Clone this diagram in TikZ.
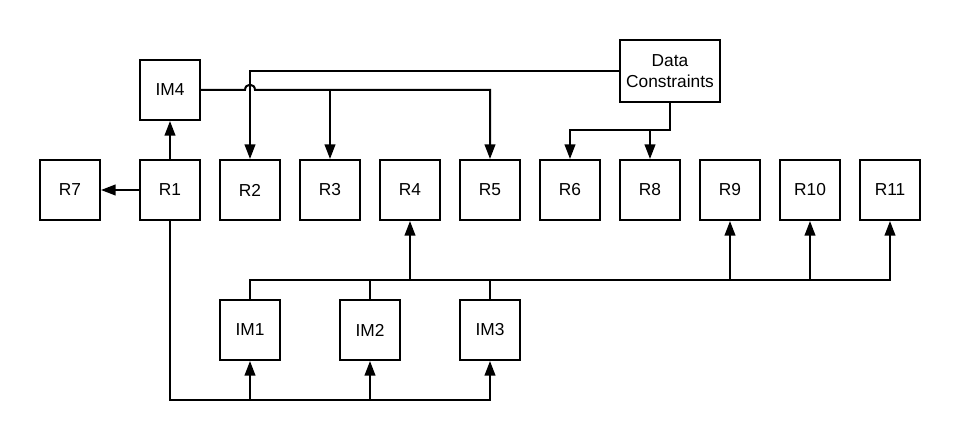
\documentclass[tikz,border=0pt]{standalone}
\usepackage{fontspec}
\setmainfont{Liberation Sans}
\usetikzlibrary{arrows.meta}

\tikzset{
  blk/.style={draw, line width=1.5pt, inner sep=0.75pt, minimum width=45pt, minimum height=45pt, align=center, font=\fontsize{13}{15.75}\selectfont},
  wire/.style={line width=1.5pt},
  arr/.style={wire, -{Triangle[length=11pt,width=8pt]}}
}

\begin{document}
\begin{tikzpicture}[x=0.75pt,y=0.75pt,yscale=-1]
\path (0,0) rectangle (960,441); %set diagram size

% Top boxes
\node [blk] (IM4) at (170,90) {IM4};
\node [blk, minimum width=75pt, minimum height=46.5pt] (DC) at (670,71) {Data\\Constraints};
% Row of R boxes
\node [blk] (R7) at (70,190) {R7};
\node [blk] (R1) at (170,190) {R1};
\node [blk] (R2) at (250,190) {R2};
\node [blk] (R3) at (330,190) {R3};
\node [blk] (R4) at (410,190) {R4};
\node [blk] (R5) at (490,190) {R5};
\node [blk] (R6) at (570,190) {R6};
\node [blk] (R8) at (650,190) {R8};
\node [blk] (R9) at (730,190) {R9};
\node [blk] (R10) at (810,190) {R10};
\node [blk] (R11) at (890,190) {R11};
% Bottom boxes
\node [blk] (IM1) at (250,330) {IM1};
\node [blk] (IM2) at (370,330) {IM2};
\node [blk] (IM3) at (490,330) {IM3};

% Bend points
\coordinate (dcbend) at (670,130);
\coordinate (bus) at (250,280);
\coordinate (low) at (170,400);

% R1 outputs
\draw [arr] (R1) -- (IM4);
\draw [arr] (R1) -- (R7);
% IM4 to R3 and R5, hopping over the Data Constraints line
\draw [arr] (IM4.east) -- (245,90) .. controls (245,83) and (255,83) .. (255,90) -- (R5.north |- IM4.east) -- (R5);
\draw [arr] (R3.north |- IM4.east) -- (R3);
% Data Constraints to R2, R6 and R8
\draw [arr] (DC.west) -- (R2.north |- DC.west) -- (R2);
\draw [arr] (DC.south) -- (dcbend) -| (R6.north);
\draw [arr] (R8.north |- dcbend) -- (R8);
% IM1, IM2, IM3 bus
\draw [arr] (IM1.north) |- (R11.south |- bus) -- (R11.south);
\draw [wire] (IM2.north) -- (IM2.north |- bus);
\draw [wire] (IM3.north) -- (IM3.north |- bus);
\draw [arr] (R4.south |- bus) -- (R4.south);
\draw [arr] (R9.south |- bus) -- (R9.south);
\draw [arr] (R10.south |- bus) -- (R10.south);
% R1 to IM1, IM2, IM3
\draw [arr] (R1.south) |- (IM3.south |- low) -- (IM3.south);
\draw [arr] (IM1.south |- low) -- (IM1.south);
\draw [arr] (IM2.south |- low) -- (IM2.south);

\end{tikzpicture}
\end{document}
